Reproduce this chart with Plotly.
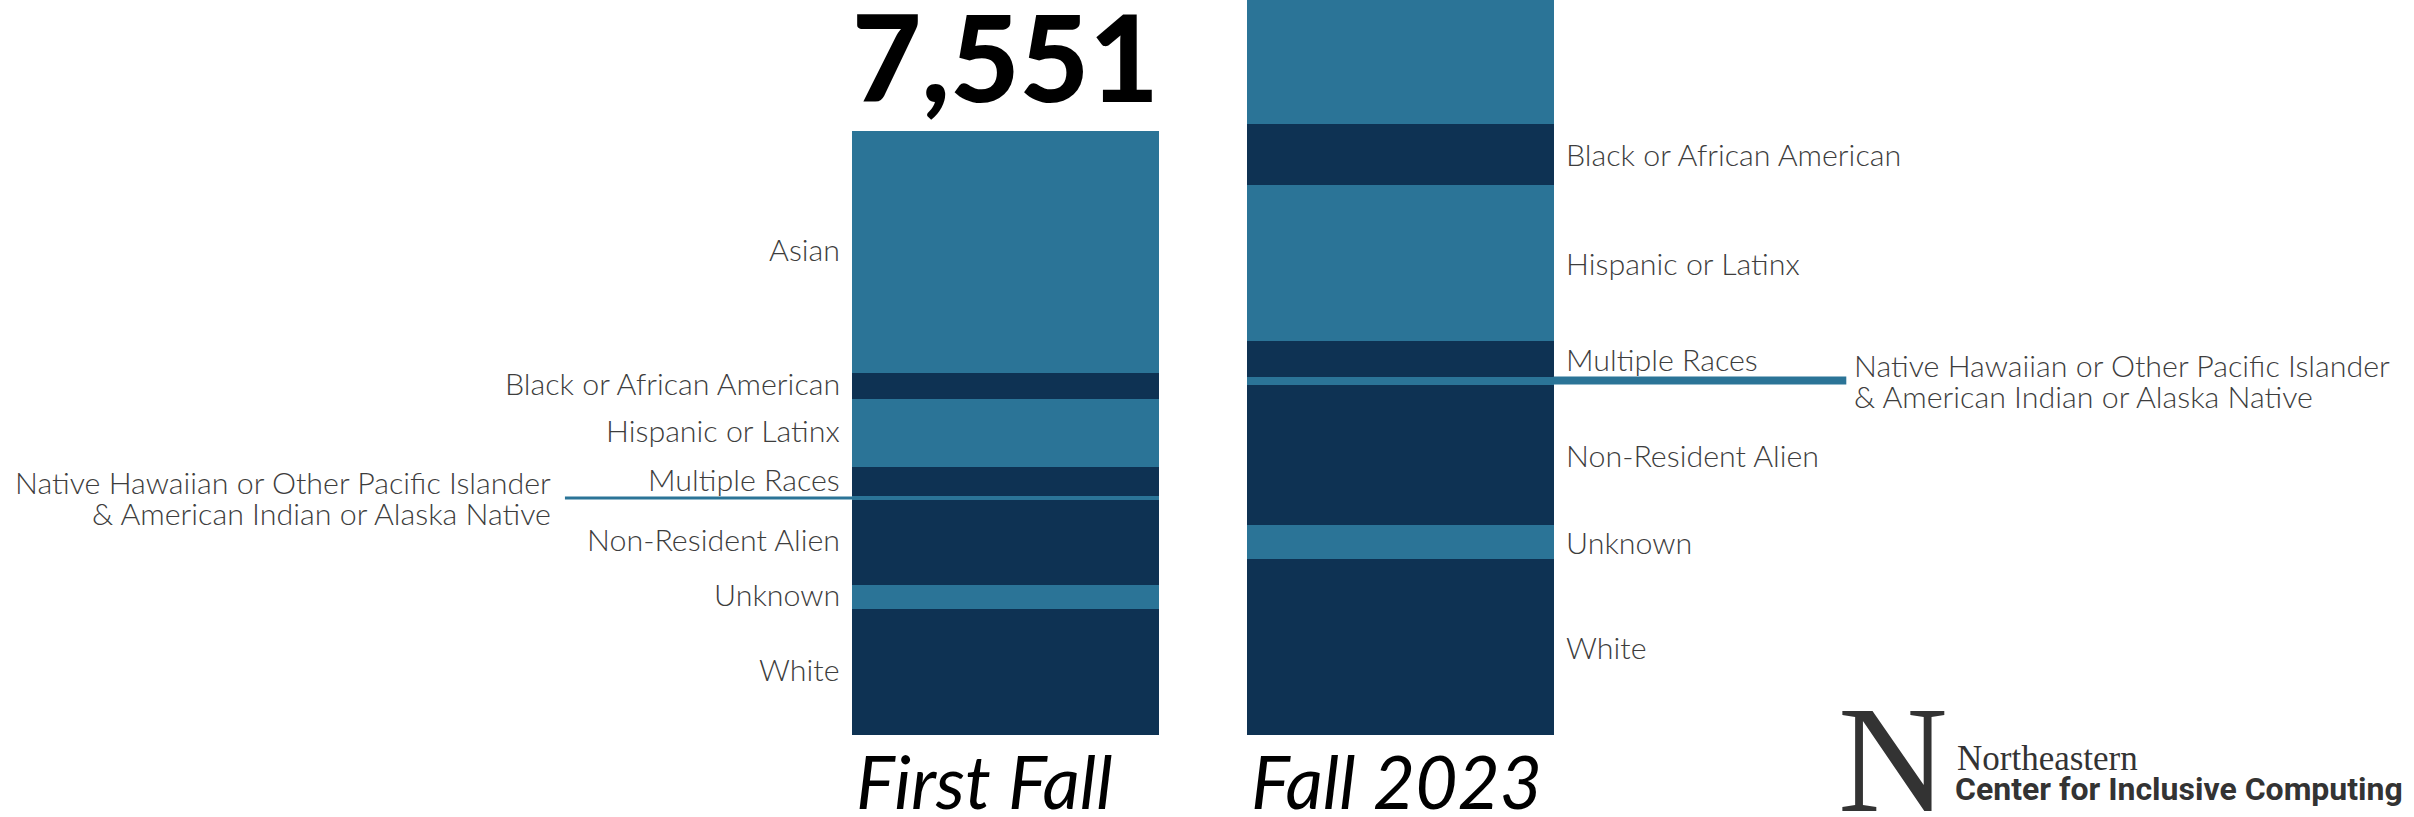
import plotly.graph_objects as go

# ---------------- data ----------------
categories = ["Asian", "Black or African American", "Hispanic or Latinx", "Multiple Races",
              "Native Hawaiian or Other Pacific Islander<br>& American Indian or Alaska Native",
              "Non-Resident Alien", "Unknown", "White"]
periods = ["First Fall", "Fall 2023"]
# listed top (Asian) to bottom (White); stacked from the bottom
first_fall = [3025, 325, 850, 363, 38, 1075, 300, 1575]
fall_2023 = [2600, 762, 1950, 450, 100, 1750, 425, 2212]
colors = ["#2B7497", "#0E3253", "#2B7497", "#0E3253", "#2B7497", "#0E3253", "#2B7497", "#0E3253"]

LIGHT_FONT = dict(family="Lato", size=30.4, color="#3d3d3d", weight=300)

# ---------------- layout constants ----------------
BAR_W = 0.778
X_RANGE = [-2.549, 3.570]
Y_RANGE = [-1019, 9194]
NH_LINE_LEFT = -1.117   # end of connector on the left of bar 1
NH_LINE_RIGHT = 2.131   # end of connector on the right of bar 2
LINE_GAP = 15.5         # half line spacing for two-line label (px)

fig = go.Figure()
stack_order = list(range(len(categories)))[::-1]  # bottom: White
for i in stack_order:
    fig.add_trace(go.Bar(
        x=[0, 1], y=[first_fall[i], fall_2023[i]], width=BAR_W,
        marker=dict(color=colors[i], line=dict(width=0)),
        name=categories[i].replace("<br>", " "), showlegend=False, hoverinfo="skip"))

annotations = []
shapes = []


def cum_bounds(values):
    bounds = {}
    base = 0
    for i in stack_order:
        bounds[i] = (base, base + values[i])
        base += values[i]
    return bounds


b1 = cum_bounds(first_fall)
b2 = cum_bounds(fall_2023)
nh = 4


def two_line(x, y, text, anchor, xshift):
    lines = text.split("<br>")
    out = []
    for j, ln in enumerate(lines):
        out.append(dict(x=x, y=y, xref="x", yref="y", text=ln, showarrow=False,
                        xanchor=anchor, yanchor="middle", align=anchor, xshift=xshift,
                        yshift=LINE_GAP if j == 0 else -LINE_GAP, font=LIGHT_FONT))
    return out


# labels for First Fall (left side)
for i in range(len(categories)):
    lo, hi = b1[i]
    if i == nh:
        shapes.append(dict(type="rect", xref="x", yref="y", x0=NH_LINE_LEFT, x1=-BAR_W / 2,
                           y0=lo, y1=hi, fillcolor=colors[i], line=dict(width=0)))
        annotations += two_line(NH_LINE_LEFT, (lo + hi) / 2, categories[i], "right", -12)
    else:
        annotations.append(dict(x=-BAR_W / 2, y=(lo + hi) / 2, xref="x", yref="y",
                                text=categories[i], showarrow=False, xanchor="right",
                                yanchor="middle", align="right", xshift=-10, yshift=3,
                                font=LIGHT_FONT))

# labels for Fall 2023 (right side); Asian label is above the visible area
for i in range(1, len(categories)):
    lo, hi = b2[i]
    if i == nh:
        shapes.append(dict(type="rect", xref="x", yref="y", x0=1 + BAR_W / 2, x1=NH_LINE_RIGHT,
                           y0=lo, y1=hi, fillcolor=colors[i], line=dict(width=0)))
        annotations += two_line(NH_LINE_RIGHT, (lo + hi) / 2, categories[i], "left", 6)
    else:
        annotations.append(dict(x=1 + BAR_W / 2, y=(lo + hi) / 2, xref="x", yref="y",
                                text=categories[i], showarrow=False, xanchor="left",
                                yanchor="middle", align="left", xshift=10, font=LIGHT_FONT))

# total above First Fall bar
total_first = sum(first_fall)
annotations.append(dict(x=0, y=total_first, xref="x", yref="y", text=f"{total_first:,}",
                        showarrow=False, xanchor="center", yanchor="bottom", yshift=1,
                        font=dict(family="Lato", size=120, color="#000000", weight=900)))

# period labels under bars
for k, p in enumerate(periods):
    annotations.append(dict(x=k - BAR_W / 2, y=0, xref="x", yref="paper", text=p,
                            showarrow=False, xanchor="left", yanchor="bottom", yshift=-10,
                            xshift=2,
                            font=dict(family="Lato", size=73, color="#000000",
                                      style="italic", weight=400)))

# logo
annotations.append(dict(x=1836 / 2414, y=0, xref="paper", yref="paper", text="N",
                        showarrow=False, xanchor="left", yanchor="bottom", yshift=-29,
                        font=dict(family="Liberation Serif", size=152, color="#333333")))
annotations.append(dict(x=1955 / 2414, y=1 - 758 / 817, xref="paper", yref="paper",
                        text="Northeastern", showarrow=False, xanchor="left", yanchor="middle",
                        font=dict(family="Liberation Serif", size=35, color="#333333")))
annotations.append(dict(x=1953 / 2414, y=1 - 789 / 817, xref="paper", yref="paper",
                        text="Center for Inclusive Computing", showarrow=False,
                        xanchor="left", yanchor="middle",
                        font=dict(family="Roboto", size=32, color="#333333", weight=700)))

fig.update_layout(
    barmode="stack", width=2414, height=817,
    margin=dict(l=0, r=0, t=0, b=0),
    paper_bgcolor="white", plot_bgcolor="white",
    xaxis=dict(range=X_RANGE, visible=False, fixedrange=True),
    yaxis=dict(range=Y_RANGE, visible=False, fixedrange=True),
    annotations=annotations, shapes=shapes, bargap=0,
)

fig.write_html("out.html", config={"displayModeBar": False},
               post_script="document.body.style.margin='0';document.body.style.overflow='hidden';")
